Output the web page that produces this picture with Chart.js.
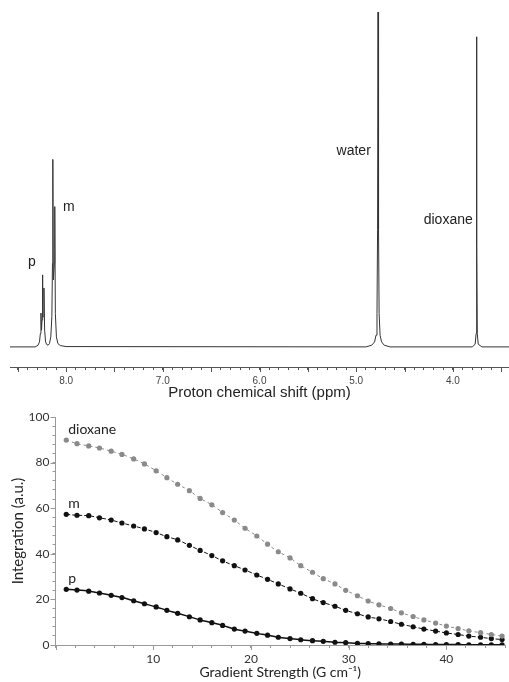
<!DOCTYPE html>
<html>
<head>
<meta charset="utf-8">
<script src="https://cdn.jsdelivr.net/npm/chart.js"></script>
<style>
  html, body { margin: 0; padding: 0; background: #fff; }
  #top { position: absolute; left: 0; top: 0; width: 509px; height: 402px; }
  #bottom { position: absolute; left: 0; top: 402px; width: 509px; height: 280px; }
</style>
</head>
<body>
<div id="top"><canvas id="spectrum"></canvas></div>
<div id="bottom"><canvas id="decay"></canvas></div>
<script>
// 1H spectrum: [shift in ppm, intensity]
const spectrum = [
  [8.58, 0], [8.32, 0], [8.29, 0.5], [8.275, 1.5], [8.266, 4], [8.260, 10.1],
  [8.254, 5], [8.249, 8], [8.245, 21.5], [8.240, 9], [8.234, 9], [8.229, 17.6],
  [8.222, 5], [8.212, 1.5], [8.200, 0.7], [8.186, 0.5], [8.172, 1.0], [8.158, 3],
  [8.147, 9], [8.141, 25], [8.137, 56], [8.132, 20], [8.127, 20], [8.121, 25],
  [8.117, 41.9], [8.111, 10], [8.100, 3], [8.085, 1], [8.06, 0.4], [8.0, 0.1],
  [4.90, 0], [4.84, 0.5], [4.81, 1.5], [4.795, 3.5], [4.785, 10], [4.779, 35],
  [4.774, 100], [4.769, 35], [4.763, 10], [4.753, 3.5], [4.738, 1.5], [4.71, 0.5],
  [4.65, 0], [3.80, 0], [3.77, 0.8], [3.76, 4], [3.757, 30], [3.754, 92.6],
  [3.751, 30], [3.748, 4], [3.738, 0.8], [3.70, 0], [3.42, 0]
];
const peakNames = ['p', 'm', 'water', 'dioxane'];
const peakNameAt = [[8.393, 24.3], [8.031, 40.6], [5.203, 57.3], [4.302, 36.6]];

// DOSY decay, gradient strength in G/cm
const gradient = [1.1, 2.2, 3.4, 4.5, 5.7, 6.8, 8.0, 9.1, 10.3, 11.4, 12.5, 13.7, 14.8, 16.0,
  17.1, 18.3, 19.4, 20.6, 21.7, 22.8, 24.0, 25.1, 26.3, 27.4, 28.6, 29.7, 30.9, 32.0,
  33.1, 34.3, 35.4, 36.6, 37.7, 38.9, 40.0, 41.2, 42.3, 43.5, 44.6, 45.7];
const dioxane = [89.9, 88.3, 87.3, 86.4, 85.0, 83.6, 81.6, 79.4, 76.4, 73.4, 70.5, 67.7, 64.3,
  61.5, 58.1, 54.8, 51.2, 47.8, 44.2, 40.9, 38.2, 34.8, 31.9, 29.1, 26.8, 24.0, 21.6, 19.3,
  17.6, 16.0, 14.1, 12.5, 11.0, 9.6, 8.3, 7.2, 6.2, 5.4, 4.6, 3.9];
const meta = [57.3, 56.9, 56.7, 55.8, 54.8, 53.5, 52.2, 50.9, 49.3, 47.5, 46.1, 43.7, 41.5,
  39.2, 36.9, 34.8, 32.9, 30.7, 28.8, 26.8, 24.6, 22.7, 20.3, 18.6, 17.0, 15.2, 13.7, 12.3,
  11.5, 10.3, 9.1, 8.0, 7.0, 6.1, 5.3, 4.6, 3.9, 3.4, 2.8, 2.4];
const para = [24.4, 24.1, 23.6, 22.8, 21.8, 20.8, 19.4, 18.1, 16.7, 15.2, 13.9, 12.4, 11.0,
  9.8, 8.6, 7.0, 6.1, 5.1, 4.3, 3.4, 2.8, 2.3, 1.9, 1.6, 1.2, 1.0, 0.7, 0.6, 0.5, 0.4, 0.4,
  0.3, 0.3, 0.2, 0.2, 0.2, 0.1, 0.1, 0.1, 0.1];

// longer tick marks at the labelled steps
function longTicks(list) {
  return {
    id: 'longTicks',
    afterDraw(chart) {
      const ctx = chart.ctx;
      list.forEach(o => {
        const s = chart.scales[o.id];
        ctx.save();
        ctx.strokeStyle = o.color;
        ctx.lineWidth = 1;
        s.ticks.forEach(t => {
          const r = t.value / o.every;
          if (Math.abs(r - Math.round(r)) > 1e-6) return;
          const p = Math.round(s.getPixelForValue(t.value)) + 0.5;
          ctx.beginPath();
          if (s.isHorizontal()) { ctx.moveTo(p, s.top); ctx.lineTo(p, s.top + o.len); }
          else { ctx.moveTo(s.right, p); ctx.lineTo(s.right - o.len, p); }
          ctx.stroke();
        });
        ctx.restore();
      });
    }
  };
}

const peakNotes = {
  id: 'peakNotes',
  afterDatasetsDraw(chart) {
    const ctx = chart.ctx, x = chart.scales.x, y = chart.scales.y;
    ctx.save();
    ctx.font = '14px "Liberation Sans", Arial, sans-serif';
    ctx.fillStyle = '#222';
    ctx.textAlign = 'left';
    ctx.textBaseline = 'alphabetic';
    peakNames.forEach((t, i) => {
      ctx.fillText(t, x.getPixelForValue(peakNameAt[i][0]), y.getPixelForValue(peakNameAt[i][1]));
    });
    ctx.restore();
  }
};

const seriesNotes = {
  id: 'seriesNotes',
  afterDatasetsDraw(chart) {
    const ctx = chart.ctx;
    ctx.save();
    ctx.font = '14px Lato, sans-serif';
    ctx.fillStyle = '#222';
    ctx.textAlign = 'left';
    ctx.textBaseline = 'alphabetic';
    chart.data.datasets.forEach((ds, i) => {
      const pt = chart.getDatasetMeta(i).data[0];
      ctx.fillText(ds.label, pt.x + 2, pt.y - 6);
    });
    ctx.restore();
  }
};

new Chart(document.getElementById('spectrum'), {
  type: 'scatter',
  data: {
    datasets: [{
      data: spectrum.map(p => ({ x: p[0], y: p[1] })),
      showLine: true,
      borderColor: '#333',
      borderWidth: 1,
      pointRadius: 0,
      tension: 0
    }]
  },
  options: {
    responsive: true,
    maintainAspectRatio: false,
    animation: false,
    layout: { padding: { left: 10, right: 0, top: 10, bottom: 0 } },
    plugins: { legend: { display: false }, tooltip: { enabled: false } },
    scales: {
      x: {
        type: 'linear', reverse: true, min: 3.42, max: 8.58,
        border: { color: '#555' },
        grid: { drawOnChartArea: false, tickLength: 3, color: '#555' },
        ticks: {
          stepSize: 0.1, autoSkip: false, includeBounds: false, maxRotation: 0,
          padding: 5, color: '#444', font: { family: 'Liberation Sans', size: 10 },
          callback: v => Math.abs(v - Math.round(v)) < 1e-6 ? v.toFixed(1) : ''
        },
        title: {
          display: true, text: 'Proton chemical shift (ppm)', color: '#222',
          font: { family: 'Liberation Sans', size: 15 }, padding: { top: 0, bottom: 0 }
        },
        afterFit: s => { s.height = 35; }
      },
      y: { display: false, min: -6, max: 100.6 }
    }
  },
  plugins: [longTicks([{ id: 'x', every: 0.5, len: 5, color: '#555' }]), peakNotes]
});

const pts = vals => vals.map((v, i) => ({ x: gradient[i], y: v }));

new Chart(document.getElementById('decay'), {
  type: 'scatter',
  data: {
    datasets: [
      { label: 'dioxane', data: pts(dioxane), showLine: true, borderColor: '#8a8a8a',
        backgroundColor: '#8a8a8a', borderWidth: 1, borderDash: [3, 3], pointRadius: 2.6,
        pointBorderWidth: 0, cubicInterpolationMode: 'monotone' },
      { label: 'm', data: pts(meta), showLine: true, borderColor: '#111',
        backgroundColor: '#111', borderWidth: 1, borderDash: [4, 2], pointRadius: 2.6,
        pointBorderWidth: 0, cubicInterpolationMode: 'monotone' },
      { label: 'p', data: pts(para), showLine: true, borderColor: '#111',
        backgroundColor: '#111', borderWidth: 1.5, pointRadius: 2.6,
        pointBorderWidth: 0, cubicInterpolationMode: 'monotone' }
    ]
  },
  options: {
    responsive: true,
    maintainAspectRatio: false,
    animation: false,
    layout: { padding: { left: 0, right: 4, top: 15, bottom: 0 } },
    plugins: { legend: { display: false }, tooltip: { enabled: false } },
    scales: {
      x: {
        type: 'linear', min: 0, max: 46,
        border: { color: '#999' },
        grid: { drawOnChartArea: false, tickLength: 3, color: '#999' },
        ticks: {
          stepSize: 2, autoSkip: false, includeBounds: false, maxRotation: 0,
          padding: 4, color: '#333', font: { family: 'Lato', size: 12 },
          callback: v => (v > 0 && v % 10 === 0) ? v : ''
        },
        title: {
          display: true, text: 'Gradient Strength (G cm⁻¹)', color: '#222',
          font: { family: 'Lato', size: 14 }, padding: { top: 1, bottom: 1 }
        },
        afterFit: s => { s.height = 37; }
      },
      y: {
        min: 0, max: 100,
        border: { color: '#999' },
        grid: { drawOnChartArea: false, tickLength: 3, color: '#999' },
        ticks: {
          stepSize: 4, autoSkip: false, padding: 3, color: '#333',
          font: { family: 'Lato', size: 12 },
          callback: v => v % 20 === 0 ? v : ''
        },
        title: {
          display: true, text: 'Integration (a.u.)', color: '#222',
          font: { family: 'Lato', size: 15 }, padding: { top: 9, bottom: 9 }
        },
        afterFit: s => { s.width = 55.5; }
      }
    }
  },
  plugins: [longTicks([{ id: 'x', every: 10, len: 5, color: '#999' },
                       { id: 'y', every: 20, len: 5, color: '#999' }]), seriesNotes]
});
</script>
</body>
</html>
